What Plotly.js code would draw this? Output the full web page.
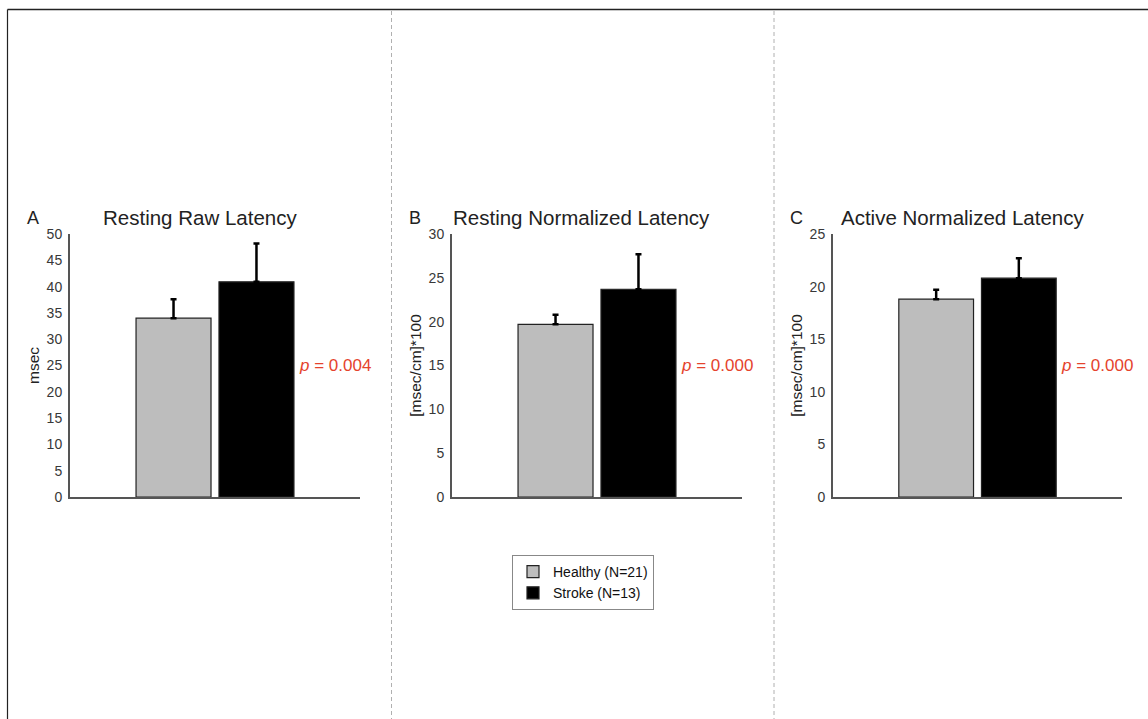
<!DOCTYPE html>
<html>
<head>
<meta charset="utf-8">
<script src="https://cdn.plot.ly/plotly-3.0.1.min.js"></script>
<style>html,body{margin:0;padding:0;background:#fff;}#chart{width:1148px;height:719px;}</style>
</head>
<body>
<div id="chart"></div>
<script>
// ---- data ----
const groups = ["Healthy (N=21)", "Stroke (N=13)"];
const panelLetters = ["A", "B", "C"];
const panelTitles = ["Resting Raw Latency", "Resting Normalized Latency", "Active Normalized Latency"];
const yTitles = ["msec", "[msec/cm]*100", "[msec/cm]*100"];
const healthyMean = [34.0, 19.7, 18.8];
const healthyErr = [3.6, 1.1, 0.9];
const strokeMean = [40.9, 23.7, 20.8];
const strokeErr = [7.3, 4.0, 1.9];
const yMax = [50, 30, 25];
const yStep = [5, 5, 5];
const pValues = ["0.004", "0.000", "0.000"];

// ---- layout helpers ----
const W = 1148, H = 719;
const px = v => v / W;
const py = v => 1 - v / H;
const xDomains = [[px(70), px(360)], [px(452), px(742)], [px(833), px(1122)]];
const yDomain = [py(497), py(234)];
const FONT = "Liberation Sans, Arial, sans-serif";
const colors = ["#bdbdbd", "#000000"];

const traces = [];
const layout = {
  width: W, height: H,
  margin: {l: 0, r: 0, t: 0, b: 0},
  paper_bgcolor: "#ffffff", plot_bgcolor: "rgba(0,0,0,0)",
  barmode: "group", bargap: 0.428, bargroupgap: 0.096,
  font: {family: FONT, color: "#333"},
  showlegend: true,
  legend: {
    x: px(512), y: py(555), xanchor: "left", yanchor: "top",
    bordercolor: "#888", borderwidth: 1, bgcolor: "#fff",
    font: {family: FONT, size: 14, color: "#111"},
    tracegroupgap: 0, itemwidth: 30
  },
  annotations: [], shapes: []
};

for (let i = 0; i < 3; i++) {
  const sfx = i === 0 ? "" : String(i + 1);
  const means = [healthyMean[i], strokeMean[i]];
  const errs = [healthyErr[i], strokeErr[i]];
  for (let g = 0; g < 2; g++) {
    traces.push({
      type: "bar", name: groups[g], legendgroup: groups[g], showlegend: i === 0,
      x: [0], y: [means[g]],
      xaxis: "x" + sfx, yaxis: "y" + sfx,
      marker: {color: colors[g], line: {color: "#222", width: 1.2}},
      error_y: {type: "data", symmetric: false, array: [errs[g]], arrayminus: [NaN],
                color: "#000", thickness: 2.5, width: 3},
      hoverinfo: "skip"
    });
  }
  layout["xaxis" + sfx] = {
    domain: xDomains[i], anchor: "y" + sfx, range: [-0.5, 0.5],
    showline: true, linecolor: "#555", linewidth: 2,
    showgrid: false, zeroline: false, showticklabels: false, ticks: "", fixedrange: true
  };
  layout["yaxis" + sfx] = {
    domain: yDomain, anchor: "x" + sfx, range: [0, yMax[i]], dtick: yStep[i], tick0: 0,
    showline: true, linecolor: "#555", linewidth: 2,
    showgrid: false, zeroline: false, ticks: "", ticklabelstandoff: 3,
    tickfont: {family: FONT, size: 14, color: "#383838"},
    title: {text: yTitles[i], font: {family: FONT, size: 15.5, color: "#222"}, standoff: 3},
    fixedrange: true
  };
  layout.annotations.push({
    xref: "x" + sfx + " domain", yref: "y" + sfx + " domain",
    x: 0.447, y: 1 + 16 / 263, xanchor: "center", yanchor: "middle",
    text: panelTitles[i], showarrow: false, font: {family: FONT, size: 20.5, color: "#222"}
  });
  layout.annotations.push({
    xref: "x" + sfx + " domain", yref: "y" + sfx + " domain",
    x: -0.127, y: 1 + 16 / 263, xanchor: "center", yanchor: "middle",
    text: panelLetters[i], showarrow: false, font: {family: FONT, size: 18, color: "#222"}
  });
  layout.annotations.push({
    xref: "x" + sfx + " domain", yref: "y" + sfx + " domain",
    x: (297 - 70) / 290, y: 0.5, xanchor: "left", yanchor: "middle",
    text: "<i>p</i> = " + pValues[i], showarrow: false,
    font: {family: FONT, size: 17, color: "#e5432d"}
  });
}

// frame and panel separators
layout.shapes.push(
  {type: "line", xref: "paper", yref: "paper", x0: px(7.5), x1: 1, y0: py(9.5), y1: py(9.5),
   line: {color: "#222", width: 1.5}},
  {type: "line", xref: "paper", yref: "paper", x0: px(7.5), x1: px(7.5), y0: py(9.5), y1: 0,
   line: {color: "#222", width: 1.2}},
  {type: "line", xref: "paper", yref: "paper", x0: px(391.5), x1: px(391.5), y0: py(11), y1: 0,
   line: {color: "#b0b0b0", width: 1, dash: "4px,3px"}},
  {type: "line", xref: "paper", yref: "paper", x0: px(774), x1: px(774), y0: py(11), y1: 0,
   line: {color: "#b0b0b0", width: 1, dash: "4px,3px"}}
);

Plotly.newPlot("chart", traces, layout, {displayModeBar: false, staticPlot: true});
</script>
</body>
</html>
